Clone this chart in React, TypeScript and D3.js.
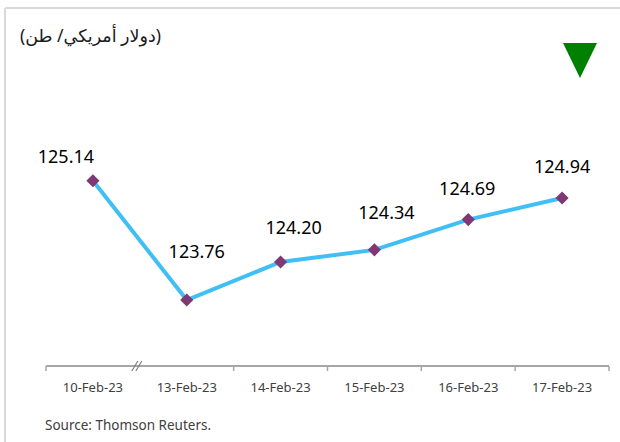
import React from "react";
import * as d3 from "d3";

const categories = ["10-Feb-23", "13-Feb-23", "14-Feb-23", "15-Feb-23", "16-Feb-23", "17-Feb-23"];
const values = [125.14, 123.76, 124.2, 124.34, 124.69, 124.94];
const labelDx = [-27, 10, 13, 12, -1, 0];
const labelDy = [-18, -42, -28, -31, -25, -25];
const unitTitle = "(دولار أمريكي/ طن)";
const sourceText = "Source: Thomson Reuters.";

const W = 620;
const H = 442;
const axisY = 366;

export default function App() {
  const x = d3.scaleBand<string>().domain(categories).range([46, 609]).padding(0);
  const y = d3.scaleLinear().domain([123.76, 125.14]).range([300, 180.7]);
  const cx = (c: string) => (x(c) as number) + x.bandwidth() / 2;
  const line = d3
    .line<number>()
    .x((_, i) => cx(categories[i]))
    .y((d) => y(d));
  const diamond = d3.symbol().type(d3.symbolDiamond2).size(110)() as string;
  const ticks = [46, ...categories.slice(1).map((c) => (x(c) as number) + x.bandwidth())];
  const breakX = (x(categories[0]) as number) + x.bandwidth() - 2;
  const font = "'Noto Sans', 'DejaVu Sans', sans-serif";

  return (
    <svg
      width={W}
      height={H}
      style={{ position: "absolute", left: 0, top: 0, background: "#fff" }}
      fontFamily={font}
    >
      {/* frame */}
      <line x1={5} y1={8} x2={W} y2={8} stroke="#d9d9d9" strokeWidth={2} />
      <line x1={5} y1={8} x2={5} y2={H} stroke="#d9d9d9" strokeWidth={2} />

      <text x={20} y={42} fontSize={17.5} fill="#1a1a1a" direction="rtl" textAnchor="end" style={{ unicodeBidi: "plaintext" }}>
        {unitTitle}
      </text>

      {/* green down triangle */}
      <path d={`M${563},${43} L${597},${43} L${580},${78} Z`} fill="#008000" />

      {/* axis */}
      <line x1={46} y1={axisY} x2={609} y2={axisY} stroke="#a6a6a6" strokeWidth={2} />
      {ticks.map((t, i) => (
        <line key={i} x1={t} y1={axisY} x2={t} y2={axisY + 5} stroke="#a6a6a6" strokeWidth={1.5} />
      ))}
      <g stroke="#808080" strokeWidth={1.2}>
        <line x1={breakX - 6} y1={axisY + 5} x2={breakX} y2={axisY - 5} />
        <line x1={breakX - 2} y1={axisY + 5} x2={breakX + 4} y2={axisY - 5} />
      </g>
      {categories.map((c) => (
        <text key={c} x={cx(c)} y={392} fontSize={13} fill="#404040" textAnchor="middle">
          {c}
        </text>
      ))}

      {/* line */}
      <path d={line(values) as string} fill="none" stroke="#40bff5" strokeWidth={4} />
      {values.map((v, i) => (
        <path key={i} d={diamond} transform={`translate(${cx(categories[i])},${y(v)})`} fill="#7e3874" />
      ))}
      {values.map((v, i) => (
        <text
          key={"l" + i}
          x={cx(categories[i]) + labelDx[i]}
          y={y(v) + labelDy[i]}
          fontSize={18}
          fill="#000"
          textAnchor="middle"
        >
          {v.toFixed(2)}
        </text>
      ))}

      <text x={45} y={430} fontSize={13.5} fill="#404040">
        {sourceText}
      </text>
    </svg>
  );
}
